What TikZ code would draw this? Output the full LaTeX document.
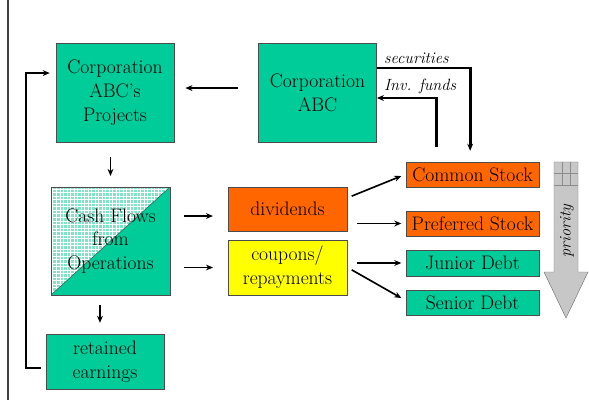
\documentclass[tikz,border=0pt]{standalone}
\usetikzlibrary{arrows.meta,patterns}

\definecolor{boxgreen}{RGB}{0,204,153}
\definecolor{lightgreen}{RGB}{128,226,198}
\definecolor{divorange}{RGB}{255,102,0}
\definecolor{coupyellow}{RGB}{255,255,0}

\begin{document}
\begin{tikzpicture}[x=0.03cm,y=-0.03cm,
  every node/.style={font=\rmfamily\fontsize{16.7pt}{20.4pt}\selectfont},
  box/.style={draw=black!70,fill=boxgreen,align=center,inner sep=0pt},
  bigbox/.style={box,minimum width=101pt,minimum height=84.2pt},
  stock/.style={box,minimum width=113.1pt,minimum height=21.3pt},
  flow/.style={line width=1.4pt,-{Stealth[length=6pt,width=5pt]}},
  heavy/.style={line width=2.3pt,-{Stealth[length=6pt,width=5pt]}},
  lbl/.style={font=\rmfamily\itshape\fontsize{13.9pt}{16pt}\selectfont,inner sep=1pt}]
  \useasboundingbox (0,0) rectangle (589,400);

  % left frame line
  \draw[line width=1.6pt,black!75] (8,0) -- (8,400);

  \node (proj)[bigbox] at (115,92.5) {Corporation\\ABC’s\\Projects};
  \node (corp)[bigbox] at (317.5,92.5) {Corporation\\ABC};
  \node (cash)[box,fill=none,minimum width=101.2pt,minimum height=91.8pt,
    path picture={
      \fill[lightgreen] (path picture bounding box.south west) -- (path picture bounding box.north west)
        -- (path picture bounding box.north east) -- cycle;
      \fill[pattern=grid,pattern color=white] (path picture bounding box.south west)
        -- (path picture bounding box.north west) -- (path picture bounding box.north east) -- cycle;
      \fill[boxgreen] (path picture bounding box.south west) -- (path picture bounding box.north east)
        -- (path picture bounding box.south east) -- cycle;
      \draw[black!70] (path picture bounding box.south west) -- (path picture bounding box.north east);
    }] at (110.5,241) {Cash Flows\\from\\Operations};
  \node (ret)[box,minimum width=100.3pt,minimum height=46.8pt] at (105,361.5) {retained\\earnings};
  \node (div)[box,fill=divorange,minimum width=101.2pt,minimum height=37.4pt] at (287.5,209) {dividends};
  \node (coup)[box,fill=coupyellow,minimum width=101.2pt,minimum height=46.8pt] at (287.5,267.5) {coupons/\\repayments};

  \node (cs)[stock,fill=divorange] at (472.5,174.5) {Common Stock};
  \node (ps)[stock,fill=divorange] at (472.5,223.5) {Preferred Stock};
  \node (jd)[stock,minimum height=22.1pt] at (472.5,263) {Junior Debt};
  \node (sd)[stock] at (472.5,302.5) {Senior Debt};

  \coordinate (retin) at ([xshift=-4.3pt]ret.north);
  \coordinate (divin) at ([yshift=-6pt]div.west);

  \draw[flow,shorten <=17pt,shorten >=9.4pt] ([yshift=3.8pt]corp.west) -- ([yshift=3.8pt]proj.east);
  \draw[flow,shorten <=12.8pt,shorten >=9.4pt] (proj.south -| cash.north) -- (cash.north);
  \draw[flow,shorten <=8.5pt,shorten >=9.4pt] (cash.south -| retin) -- (retin);
  \draw[flow,shorten <=12pt,shorten >=12.8pt] (cash.east |- divin) -- (divin);
  \draw[flow,shorten <=12pt,shorten >=12.8pt] (cash.east |- coup.west) -- (coup.west);

  \draw[flow] ([xshift=4pt,yshift=11pt]div.east) -- ([xshift=-4pt,yshift=-1.3pt]cs.west);
  \draw[flow,shorten <=8.5pt,shorten >=4pt] (div.east |- ps.west) -- (ps.west);
  \draw[flow,shorten <=8.5pt,shorten >=4pt] (coup.east |- jd.west) -- (jd.west);
  \draw[flow] ([xshift=4pt,yshift=-2pt]coup.east) -- ([xshift=-4pt,yshift=3.8pt]sd.west);

  % securities out, funds in
  \draw[heavy,shorten >=9.4pt] ([yshift=20.8pt]corp.east)
    node[lbl,anchor=south west,xshift=4pt,yshift=2pt] {securities} -| ([xshift=-2pt]cs.north);
  \draw[heavy,shorten <=12.8pt] ([xshift=-31pt]cs.north) |- ([yshift=-4.7pt]corp.east)
    node[lbl,anchor=south west,xshift=4pt,yshift=1pt] {Inv. funds};

  % reinvestment loop
  \draw[heavy,shorten <=4.3pt,shorten >=5pt] ([yshift=-5.5pt]ret.west) -- ++(-20,0)
    |- ([yshift=16.6pt]proj.west);

  % priority arrow
  \filldraw[fill=black!22,draw=black!55] (554,162) -- (578,162) -- (578,272) -- (588,272)
    -- (566,318) -- (544,272) -- (554,272) -- cycle;
  \foreach \gx in {562,570} \draw[black!45] (\gx,162) -- (\gx,185);
  \foreach \gy in {173,185} \draw[black!45] (554,\gy) -- (578,\gy);
  \node (prio)[lbl,rotate=90] at (567,231) {priority};
\end{tikzpicture}
\end{document}
